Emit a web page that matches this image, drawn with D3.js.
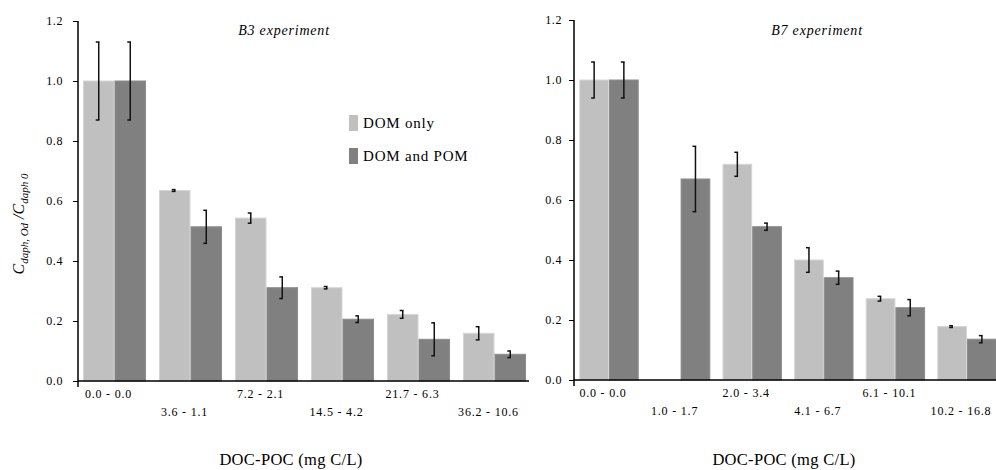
<!DOCTYPE html>
<html><head><meta charset="utf-8">
<script src="https://cdn.jsdelivr.net/npm/d3@7"></script>
<style>
body{margin:0;background:#fff;}
svg{display:block;}
</style></head>
<body>
<svg id="chart" width="996" height="470"></svg>
<script>
// ---- data ----
const seriesNames = ["DOM only", "DOM and POM"];
const yTicks = [0, 0.2, 0.4, 0.6, 0.8, 1.0, 1.2];

const b3Categories = ["0.0 - 0.0", "3.6 - 1.1", "7.2 - 2.1", "14.5 - 4.2", "21.7 - 6.3", "36.2 - 10.6"];
const b3DomOnly    = [1.0, 0.635, 0.543, 0.311, 0.222, 0.159];
const b3DomOnlyErr = [0.13, 0.003, 0.017, 0.004, 0.013, 0.022];
const b3DomPom     = [1.0, 0.514, 0.311, 0.206, 0.139, 0.089];
const b3DomPomErr  = [0.13, 0.055, 0.036, 0.011, 0.055, 0.011];

const b7Categories = ["0.0 - 0.0", "1.0 - 1.7", "2.0 - 3.4", "4.1 - 6.7", "6.1 - 10.1", "10.2 - 16.8"];
const b7DomOnly    = [1.0, null, 0.719, 0.40, 0.271, 0.178];
const b7DomOnlyErr = [0.06, null, 0.04, 0.041, 0.008, 0.003];
const b7DomPom     = [1.0, 0.67, 0.511, 0.341, 0.241, 0.136];
const b7DomPomErr  = [0.06, 0.109, 0.012, 0.022, 0.027, 0.012];

const colors = ["#c0c0c0", "#808080"];
const strokes = ["#d6d6d6", "#8c8c8c"];
const FONT = "'Liberation Serif', 'Times New Roman', Tinos, 'DejaVu Serif', serif";

const svg = d3.select("#chart").attr("font-family", FONT).style("font-family", FONT);

function panel(opts) {
  const {cats, s1, e1, s2, e2, x0, x1, axisX, axisEnd, yTop, yBot, title, titleX, labelGap} = opts;
  const g = svg.append("g");
  const y = d3.scaleLinear().domain([0, 1.2]).range([yBot, yTop]);
  const x = d3.scaleBand().domain(cats).range([x0, x1]).paddingInner(0.17).paddingOuter(0.085);
  const xs = d3.scaleBand().domain([0, 1]).range([0, x.bandwidth()]);

  const rows = cats.map((c, i) => ({c, i, v: [s1[i], s2[i]], e: [e1[i], e2[i]]}));

  const grp = g.selectAll("g.grp").data(rows).join("g").attr("class", "grp")
    .attr("transform", d => `translate(${x(d.c)},0)`);

  grp.selectAll("rect").data(d => d.v.map((v, k) => ({v, k})).filter(o => o.v != null))
    .join("rect")
    .attr("x", o => xs(o.k) + 0.5)
    .attr("width", xs.bandwidth() - 1)
    .attr("y", o => y(o.v))
    .attr("height", o => y(0) - y(o.v))
    .attr("fill", o => colors[o.k])
    .attr("stroke", o => strokes[o.k])
    .attr("stroke-width", 1);

  // error bars
  const eb = grp.selectAll("g.err").data(d => d.v.map((v, k) => ({v, k, e: d.e[k]})).filter(o => o.v != null && o.e != null))
    .join("g").attr("class", "err")
    .attr("transform", o => `translate(${xs(o.k) + xs.bandwidth() / 2},0)`);
  eb.append("line").attr("x1", 0).attr("x2", 0)
    .attr("y1", o => y(o.v + o.e)).attr("y2", o => y(o.v - o.e))
    .attr("stroke", "#111").attr("stroke-width", 1.5);
  eb.append("line").attr("x1", -3).attr("x2", 0.75)
    .attr("y1", o => y(o.v + o.e)).attr("y2", o => y(o.v + o.e))
    .attr("stroke", "#111").attr("stroke-width", 1.5);
  eb.append("line").attr("x1", -3).attr("x2", 0.75)
    .attr("y1", o => y(o.v - o.e)).attr("y2", o => y(o.v - o.e))
    .attr("stroke", "#111").attr("stroke-width", 1.5);

  // y axis
  const ya = d3.axisLeft(y).tickValues(yTicks).tickFormat(d3.format(".1f")).tickSize(5).tickPadding(labelGap);
  const yg = g.append("g").attr("transform", `translate(${axisX},0)`).call(ya);
  yg.attr("font-family", FONT);
  yg.select(".domain").remove();
  yg.selectAll("line").attr("stroke", "#000");
  yg.selectAll("text").style("font-family", FONT).style("font-size", "12px").style("letter-spacing", "0.6px").attr("fill", "#000");
  g.append("line").attr("x1", axisX).attr("x2", axisX).attr("y1", y(1.2)).attr("y2", y(0) + 6)
    .attr("stroke", "#000").attr("stroke-width", 1.5);
  // x axis line
  g.append("line").attr("x1", axisX).attr("x2", axisEnd).attr("y1", y(0)).attr("y2", y(0))
    .attr("stroke", "#000").attr("stroke-width", 1.5);

  // x category labels (staggered)
  g.selectAll("text.xl").data(cats).join("text").attr("class", "xl")
    .attr("x", d => x(d) + x.bandwidth() / 2 - 6)
    .attr("y", (d, i) => y(0) + (i % 2 === 0 ? 17 : 35))
    .attr("text-anchor", "middle")
    .style("font-family", FONT)
    .style("font-size", "12px").style("letter-spacing", "0.8px")
    .text(d => d);

  // axis title
  g.append("text").attr("x", titleX).attr("y", 465).attr("text-anchor", "middle")
    .style("font-family", FONT)
    .style("font-size", "16.5px").style("letter-spacing", "0.3px").text("DOC-POC (mg C/L)");

  // panel title
  g.append("text").attr("x", opts.ptX).attr("y", 35).attr("text-anchor", "middle")
    .style("font-family", FONT)
    .style("font-size", "14px").style("font-style", "italic").style("letter-spacing", "0.8px").text(title);
  return g;
}

panel({cats: b3Categories, s1: b3DomOnly, e1: b3DomOnlyErr, s2: b3DomPom, e2: b3DomPomErr,
  x0: 76.5, x1: 532.5, axisX: 78, axisEnd: 529, yTop: 21, yBot: 381,
  title: "B3 experiment", titleX: 291, ptX: 284, labelGap: 10});
panel({cats: b7Categories, s1: b7DomOnly, e1: b7DomOnlyErr, s2: b7DomPom, e2: b7DomPomErr,
  x0: 573.2, x1: 1002.8, axisX: 574, axisEnd: 996, yTop: 20, yBot: 380,
  title: "B7 experiment", titleX: 784, ptX: 817, labelGap: 7});

// legend
const leg = svg.append("g");
seriesNames.forEach((n, k) => {
  leg.append("rect").attr("x", 349).attr("y", 115 + k * 33).attr("width", 9).attr("height", 16)
    .attr("fill", colors[k]);
  leg.append("text").attr("x", 363).attr("y", 128 + k * 33)
    .style("font-family", FONT)
    .style("font-size", "15px").style("letter-spacing", "0.8px").text(n);
});

// y-axis label
const yl = svg.append("text").attr("transform", "translate(24,224) rotate(-90)")
  .attr("text-anchor", "middle").style("font-family", FONT).style("font-style", "italic").style("font-size", "16px");
yl.append("tspan").text("C");
yl.append("tspan").attr("dy", 4).style("font-size", "11px").text("daph, Od");
yl.append("tspan").attr("dy", -4).text(" /C");
yl.append("tspan").attr("dy", 4).style("font-size", "11px").text("daph 0");
</script>
</body></html>
